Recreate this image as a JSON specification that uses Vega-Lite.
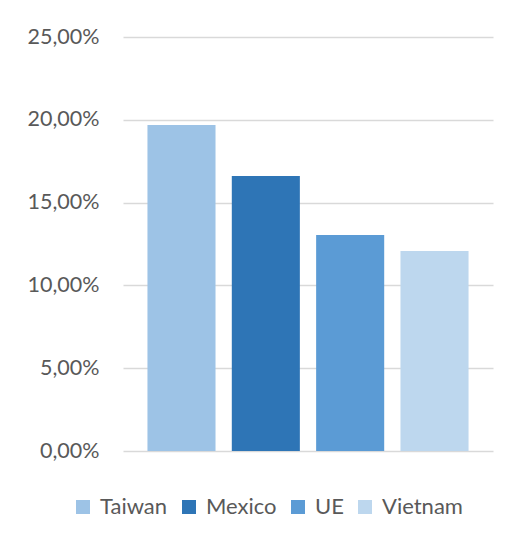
{
  "$schema": "https://vega.github.io/schema/vega-lite/v6.json",
  "width": 370,
  "height": 414,
  "autosize": {"type": "none"},
  "padding": {"left": 123, "top": 37, "right": 22, "bottom": 92},
  "background": "white",
  "data": {
    "values": [
      {"pais": "Taiwan", "valor": 0.1969},
      {"pais": "Mexico", "valor": 0.1660},
      {"pais": "UE", "valor": 0.1304},
      {"pais": "Vietnam", "valor": 0.1208}
    ]
  },
  "mark": {"type": "bar"},
  "encoding": {
    "x": {
      "field": "pais",
      "type": "nominal",
      "sort": ["Taiwan", "Mexico", "UE", "Vietnam"],
      "scale": {"paddingInner": 0.193, "paddingOuter": 0.29},
      "axis": null
    },
    "y": {
      "field": "valor",
      "type": "quantitative",
      "scale": {"domain": [0, 0.25], "nice": false},
      "axis": {
        "values": [0, 0.05, 0.1, 0.15, 0.2, 0.25],
        "labelExpr": "replace(format(datum.value, '.2%'), '.', ',')",
        "domain": false,
        "ticks": false,
        "grid": true,
        "gridColor": "#D9D9D9",
        "gridWidth": 1.3,
        "labelPadding": 24,
        "labelFont": "Lato",
        "labelFontSize": 21.5,
        "labelColor": "#595959",
        "title": null
      }
    },
    "color": {
      "field": "pais",
      "type": "nominal",
      "sort": ["Taiwan", "Mexico", "UE", "Vietnam"],
      "scale": {
        "domain": ["Taiwan", "Mexico", "UE", "Vietnam"],
        "range": ["#9DC3E6", "#2E75B6", "#5B9BD5", "#BDD7EE"]
      },
      "legend": {
        "orient": "none",
        "legendX": -51,
        "legendY": 459,
        "direction": "horizontal",
        "title": null,
        "symbolType": "square",
        "symbolSize": 196,
        "symbolStrokeWidth": 0,
        "symbolOpacity": 1,
        "labelFont": "Lato",
        "labelFontSize": 22,
        "labelColor": "#595959",
        "columnPadding": 10,
        "labelOffset": 6,
        "padding": 0
      }
    }
  },
  "config": {"view": {"stroke": null}}
}
